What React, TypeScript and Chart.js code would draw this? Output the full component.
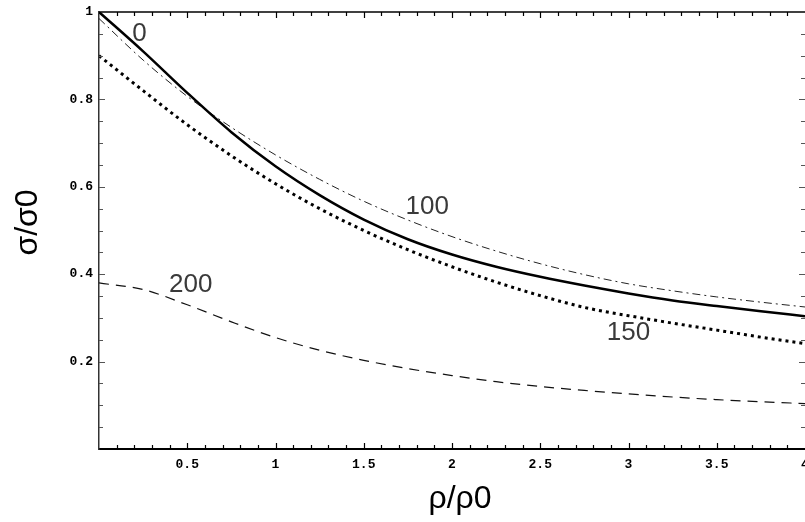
import React, { useEffect, useRef } from "react";
import { Chart, registerables } from "chart.js";

Chart.register(...registerables);

const rho = [0, 0.25, 0.5, 0.75, 1, 1.25, 1.5, 1.75, 2, 2.25, 2.5, 2.75, 3, 3.25, 3.5, 3.75, 4];
const curve0 = [1.0, 0.91, 0.815, 0.725, 0.647, 0.581, 0.525, 0.48, 0.445, 0.417, 0.394, 0.374, 0.356, 0.34, 0.327, 0.315, 0.304];
const curve100 = [0.985, 0.89, 0.807, 0.736, 0.673, 0.617, 0.567, 0.524, 0.486, 0.453, 0.424, 0.399, 0.378, 0.362, 0.348, 0.336, 0.325];
const curve150 = [0.9, 0.82, 0.742, 0.671, 0.607, 0.55, 0.5, 0.456, 0.417, 0.382, 0.351, 0.324, 0.305, 0.288, 0.272, 0.256, 0.241];
const curve200 = [0.38, 0.365, 0.33, 0.291, 0.255, 0.226, 0.203, 0.184, 0.168, 0.154, 0.143, 0.134, 0.126, 0.119, 0.113, 0.108, 0.104];

const curveLabels = ["0", "100", "150", "200"];
const labelRho = [0.23, 1.86, 3.0, 0.52];
const labelSigma = [0.95, 0.554, 0.265, 0.375];

const xTitle = "ρ/ρ0";
const yTitle = "σ/σ0";

const toPts = (ys: number[]) => rho.map((r, i) => ({ x: r, y: ys[i] }));

const decorPlugin = {
  id: "decor",
  afterDraw(chart: any) {
    const { ctx, chartArea, scales } = chart;
    const { left, right, top, bottom } = chartArea;
    const x = scales.x;
    const y = scales.y;
    ctx.save();
    ctx.strokeStyle = "#000";
    ctx.lineWidth = 1.5;
    ctx.beginPath();
    ctx.moveTo(left, top);
    ctx.lineTo(right, top);
    ctx.stroke();
    ctx.lineWidth = 1.2;
    for (let i = 1; i < 40; i++) {
      const px = Math.round(x.getPixelForValue(i / 10)) + 0.5;
      const len = i % 5 === 0 ? 6 : 4;
      ctx.strokeStyle = "#000";
      ctx.beginPath();
      ctx.moveTo(px, bottom);
      ctx.lineTo(px, bottom - len);
      ctx.moveTo(px, top);
      ctx.lineTo(px, top + len);
      ctx.stroke();
    }
    for (let i = 1; i < 20; i++) {
      const py = Math.round(y.getPixelForValue(i / 20)) + 0.5;
      const len = i % 4 === 0 ? 6 : 4;
      ctx.strokeStyle = "#555";
      ctx.beginPath();
      ctx.moveTo(left, py);
      ctx.lineTo(left + len, py);
      ctx.moveTo(right, py);
      ctx.lineTo(right - len, py);
      ctx.stroke();
    }
    ctx.fillStyle = "#3a3a3a";
    ctx.font = "26px 'Liberation Sans', Arial, sans-serif";
    ctx.textAlign = "center";
    ctx.textBaseline = "middle";
    curveLabels.forEach((t, i) => {
      ctx.fillText(t, x.getPixelForValue(labelRho[i]), y.getPixelForValue(labelSigma[i]));
    });
    ctx.fillStyle = "#000";
    ctx.font = "32px 'Liberation Sans', Arial, sans-serif";
    ctx.fillText(xTitle, (left + right) / 2 + 8, 499);
    ctx.save();
    ctx.translate(28, (top + bottom) / 2 - 8);
    ctx.rotate(-Math.PI / 2);
    ctx.fillText(yTitle, 0, 0);
    ctx.restore();
    ctx.restore();
  },
};

export default function App() {
  const ref = useRef<HTMLCanvasElement | null>(null);
  useEffect(() => {
    if (!ref.current) return;
    const tickFont = { family: "'Liberation Mono', 'DejaVu Sans Mono', monospace", size: 13, weight: "bold" as const };
    const chart = new Chart(ref.current, {
      type: "line",
      data: {
        datasets: [
          {
            label: "0",
            data: toPts(curve0),
            borderColor: "#000",
            borderWidth: 2.5,
            pointRadius: 0,
            cubicInterpolationMode: "monotone",
          },
          {
            label: "100",
            data: toPts(curve100),
            borderColor: "#222",
            borderWidth: 1,
            borderDash: [8, 4, 2, 4],
            pointRadius: 0,
            cubicInterpolationMode: "monotone",
          },
          {
            label: "150",
            data: toPts(curve150),
            borderColor: "#000",
            borderWidth: 3,
            borderDash: [3, 4],
            pointRadius: 0,
            cubicInterpolationMode: "monotone",
          },
          {
            label: "200",
            data: toPts(curve200),
            borderColor: "#111",
            borderWidth: 1.2,
            borderDash: [10, 7],
            pointRadius: 0,
            cubicInterpolationMode: "monotone",
          },
        ],
      },
      options: {
        responsive: false,
        animation: false,
        layout: { padding: { left: 0, right: 0, top: 12, bottom: 0 } },
        plugins: { legend: { display: false }, tooltip: { enabled: false } },
        scales: {
          x: {
            type: "linear",
            min: 0,
            max: 4,
            grid: { display: false, drawTicks: false },
            border: { display: true, color: "#000", width: 2 },
            ticks: {
              stepSize: 0.5,
              autoSkip: false,
              maxRotation: 0,
              color: "#000",
              font: tickFont,
              padding: 8,
              callback: (v: any) => (v === 0 ? "" : String(v)),
            },
            afterFit: (s: any) => {
              s.height = 73;
              s.paddingLeft = 0;
              s.paddingRight = 0;
            },
          },
          y: {
            type: "linear",
            min: 0,
            max: 1,
            grid: { display: false, drawTicks: false },
            border: { display: true, color: "#333", width: 1.5 },
            ticks: {
              stepSize: 0.2,
              autoSkip: false,
              color: "#000",
              font: tickFont,
              padding: 6,
              callback: (v: any) => (v === 0 ? "" : String(Math.round(v * 10) / 10)),
            },
            afterFit: (s: any) => {
              s.width = 99;
              s.paddingTop = 0;
              s.paddingBottom = 0;
            },
          },
        },
      },
      plugins: [decorPlugin],
    });
    return () => chart.destroy();
  }, []);
  return (
    <div style={{ position: "fixed", left: 0, top: 0, width: 805, height: 522, background: "#fff" }}>
      <canvas ref={ref} width={805} height={522} />
    </div>
  );
}
